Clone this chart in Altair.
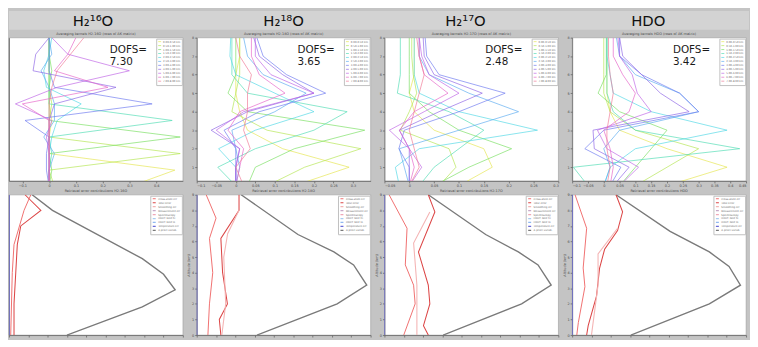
import altair as alt
import pandas as pd

# ---------------- data ----------------
titles = ["H₂¹⁶O", "H₂¹⁸O", "H₂¹⁷O", "HDO"]
dofs_values = ["7.30", "3.65", "2.48", "3.42"]
ak_titles = ["Averaging kernels H2-16O (rows of AK matrix)", "Averaging kernels H2-18O (rows of AK matrix)",
             "Averaging kernels H2-17O (rows of AK matrix)", "Averaging kernels HDO (rows of AK matrix)"]
err_titles = ["Retrieval error contributions H2-16O", "Retrieval error contributions H2-18O",
              "Retrieval error contributions H2-17O", "Retrieval error contributions HDO"]

kernel_labels = ["0.00-0.50 km", "0.50-1.00 km", "1.00-1.50 km", "1.50-2.00 km", "2.00-2.50 km",
                 "2.50-3.00 km", "3.00-4.00 km", "4.00-5.00 km", "5.00-6.00 km", "6.00-7.00 km", "7.00-8.00 km"]
kernel_colors = ["#e6e650", "#b4e650", "#78e060", "#50dcb4", "#50d8e6", "#5aaaf0",
                 "#6c78f0", "#8c64e6", "#be64e6", "#e664c8", "#f07896"]

levels_h2o16 = [0, 1, 2, 3, 4, 5, 6, 7, 8, 9]
levels_iso = [0, 1, 2, 3, 4, 5, 6, 7, 8]

ak_h2o16 = [
    [0.30, 0.47, 0.00, 0.00, 0.01, 0.00, 0.00, 0.00, 0.00, 0.00],
    [0.02, 0.00, 0.49, 0.00, 0.00, 0.01, 0.00, 0.00, 0.00, 0.00],
    [0.00, 0.01, 0.00, 0.49, 0.00, 0.00, 0.00, 0.01, 0.00, 0.00],
    [0.00, 0.00, 0.01, 0.00, 0.46, 0.00, 0.00, 0.00, 0.00, 0.00],
    [0.00, 0.00, 0.00, 0.01, 0.03, 0.12, -0.01, -0.02, 0.00, 0.01],
    [0.00, 0.00, 0.02, -0.02, 0.02, 0.02, 0.00, -0.03, 0.01, 0.00],
    [0.00, -0.01, -0.01, 0.00, -0.09, 0.385, 0.02, 0.00, 0.00, 0.00],
    [0.00, 0.00, 0.00, 0.00, 0.00, 0.02, 0.25, -0.06, -0.05, 0.00],
    [0.00, 0.00, 0.00, -0.01, 0.01, -0.126, 0.03, 0.30, 0.07, 0.01],
    [0.00, 0.00, 0.00, 0.00, 0.00, -0.10, 0.22, 0.02, 0.07, 0.10],
    [0.00, 0.00, 0.00, 0.00, 0.00, 0.00, 0.01, 0.03, 0.08, 0.13],
]
ak_h2o18 = [
    [0.15, 0.29, 0.12, 0.03, 0.01, 0.00, 0.00, 0.01, 0.01],
    [0.08, 0.176, 0.32, 0.08, -0.01, 0.00, 0.01, 0.01, 0.01],
    [0.03, 0.05, 0.15, 0.33, 0.03, -0.02, 0.00, 0.00, 0.00],
    [0.00, -0.046, 0.05, 0.20, 0.285, 0.03, -0.01, -0.01, -0.01],
    [0.00, 0.00, -0.044, 0.05, 0.20, 0.10, 0.00, -0.015, -0.013],
    [0.00, 0.01, 0.00, -0.01, 0.10, 0.18, 0.07, 0.03, 0.02],
    [0.00, 0.00, 0.00, -0.03, 0.06, 0.23, 0.13, 0.07, 0.054],
    [0.00, 0.00, 0.01, -0.063, 0.03, 0.20, 0.12, 0.06, 0.046],
    [0.00, 0.00, 0.01, -0.05, 0.02, 0.20, 0.09, 0.05, 0.05],
    [0.00, 0.01, 0.02, -0.02, 0.01, 0.126, 0.06, 0.04, 0.04],
    [0.02, 0.00, 0.037, 0.02, 0.03, 0.03, 0.04, 0.01, 0.00],
]
ak_h2o17 = [
    [0.10, 0.167, 0.15, 0.05, 0.01, 0.00, 0.01, 0.01, 0.01],
    [0.06, 0.094, 0.08, -0.018, 0.00, 0.015, 0.008, 0.005, 0.005],
    [0.05, 0.12, 0.206, 0.10, 0.04, 0.00, 0.00, 0.00, 0.00],
    [0.02, 0.05, 0.10, 0.15, 0.08, -0.024, -0.018, -0.018, -0.018],
    [-0.02, -0.028, 0.02, 0.258, 0.10, 0.02, 0.01, 0.01, 0.01],
    [0.00, -0.01, -0.02, 0.10, 0.22, 0.12, 0.04, 0.02, 0.02],
    [0.00, 0.00, -0.021, -0.01, 0.10, 0.193, 0.06, 0.035, 0.032],
    [0.00, 0.00, 0.00, -0.02, 0.06, 0.147, 0.05, 0.03, 0.028],
    [0.00, 0.025, 0.00, -0.04, 0.03, 0.10, 0.04, 0.025, 0.02],
    [0.00, 0.01, 0.00, -0.02, 0.01, 0.078, 0.03, 0.02, 0.02],
    [0.00, 0.02, 0.01, 0.00, 0.01, 0.02, 0.03, 0.02, 0.015],
]
ak_hdo = [
    [0.20, 0.39, 0.20, 0.05, 0.02, 0.01, 0.01, 0.01, 0.01],
    [0.10, 0.20, 0.30, 0.10, 0.02, 0.00, 0.00, 0.00, 0.00],
    [0.05, 0.10, 0.15, 0.20, 0.05, -0.018, 0.008, 0.008, 0.008],
    [-0.05, -0.096, 0.43, 0.10, 0.03, 0.01, 0.01, 0.01, 0.01],
    [0.00, 0.02, 0.10, 0.39, 0.15, 0.03, 0.02, 0.01, 0.01],
    [0.00, 0.02, 0.00, 0.05, 0.30, 0.24, 0.10, 0.05, 0.04],
    [0.02, 0.054, -0.06, 0.00, 0.30, 0.24, 0.12, 0.05, 0.05],
    [0.03, 0.08, -0.03, -0.034, 0.27, 0.179, 0.12, 0.06, 0.05],
    [0.05, 0.11, 0.01, -0.02, 0.15, 0.106, 0.09, 0.05, 0.045],
    [0.02, 0.03, 0.02, 0.00, 0.08, 0.10, 0.06, 0.03, 0.03],
    [0.01, 0.02, 0.01, 0.01, 0.02, 0.03, 0.02, 0.015, 0.015],
]

ak_x_domains = [[-0.15, 0.5], [-0.1, 0.345], [-0.05, 0.3], [-0.1, 0.45]]
ak_x_ticks = [[-0.1, 0, 0.1, 0.2, 0.3, 0.4],
              [-0.1, -0.05, 0, 0.05, 0.1, 0.15, 0.2, 0.25, 0.3],
              [-0.05, 0, 0.05, 0.1, 0.15, 0.2, 0.25, 0.3],
              [-0.1, -0.05, 0, 0.05, 0.1, 0.15, 0.2, 0.25, 0.3, 0.35, 0.4, 0.45]]
ak_y_domains = [[0.35, 9], [0.26, 8], [0.26, 8], [0.26, 8]]
ak_y_ticks = [[1, 2, 3, 4, 5, 6, 7, 8, 9], [1, 2, 3, 4, 5, 6, 7, 8],
              [1, 2, 3, 4, 5, 6, 7, 8], [1, 2, 3, 4, 5, 6, 7, 8]]

err_names = ["Cross-state err", "Total error", "Smoothing err", "Measurement err", "Spectroscopy",
             "Interf. NO2 hi", "Interf. NO2 lo", "Temperature err", "A priori variab."]
err_colors = ["#f07070", "#dc4646", "#f4b4b4", "#c8a8c8", "#f0a8b8", "#a8ccf0", "#90b8f0", "#6a6ad8", "#7a7a7a"]
err_widths = [1.0, 1.4, 0.9, 0.9, 0.9, 0.9, 0.9, 1.2, 1.4]

err_h2o16 = {
    "A priori variab.": ([12, 22.5, 69, 80, 86, 69, 30], [9, 8, 4.9, 3.9, 2.9, 1.8, 0]),
    "Total error": ([8.3, 16.5, 6.1, 4.3, 3.5, 2.6, 2.6], [9, 8, 7, 5.8, 4, 2, 0]),
    "Cross-state err": ([11.3, 7.8, 2.6, 1.7, 0.9], [9, 8, 5.8, 4, 0]),
    "Temperature err": ([0, 0], [0, 9]),
}
err_h2o18 = {
    "A priori variab.": ([23, 52.4, 71.0, 81.2, 88.0, 72.7, 31.2], [9, 6.45, 5.33, 4.5, 3.2, 2.0, 0]),
    "Total error": ([21.9, 21.9, 12.5, 13.4, 15.9, 11.7, 12.5], [9, 8, 6.2, 4, 2, 1, 0]),
    "Cross-state err": ([4.9, 10.0, 6.6, 8.3, 6.6, 5.8], [9, 7.5, 6.2, 4.0, 2.0, 0]),
    "Smoothing err": ([21.9, 16, 14, 15, 13], [8, 6.5, 5, 2, 0]),
    "Temperature err": ([0, 0], [0, 9]),
}
err_h2o17 = {
    "A priori variab.": ([22.7, 52.4, 69.3, 79.5, 86.3, 71.0, 30.4], [9, 6.45, 5.33, 4.5, 3.2, 2.0, 0]),
    "Total error": ([22.7, 26.1, 17.6, 22.7, 23.5, 20.2, 22.7], [9, 7.9, 5.33, 3.2, 2.0, 0.6, 0]),
    "Cross-state err": ([2.4, 11.7, 10.8, 15.1, 15.9, 10.0], [9, 6.85, 4.5, 3.2, 2.0, 0]),
    "Smoothing err": ([23.5, 15.1, 16.8, 16.8], [7.9, 5.9, 3.2, 0]),
    "Temperature err": ([0, 0], [0, 9]),
}
err_hdo = {
    "A priori variab.": ([22.7, 50.7, 71.0, 81.2, 87.1, 71.0, 30.4], [9, 6.65, 5.33, 4.4, 3.2, 2.0, 0]),
    "Total error": ([22.7, 26.1, 23.5, 16.8, 14.2, 12.6, 8.3, 7.5], [9, 7.9, 6.7, 5.5, 4.3, 2.5, 0.6, 0]),
    "Cross-state err": ([1.5, 7.5, 5.7, 6.6, 3.2, 2.4], [9, 6.85, 4.3, 3.1, 0.8, 0]),
    "Smoothing err": ([23.5, 13.4, 13.4, 10.0], [6.85, 5.2, 3.2, 0]),
    "Temperature err": ([0, 0], [0, 9]),
}
err_x_ticks = [0, 10, 20, 30, 40, 50, 60, 70, 80, 90]
err_y_ticks = [0, 1, 2, 3, 4, 5, 6, 7, 8, 9]

# ---------------- layout constants ----------------
PW, PH_UP, PH_LO = 176, 145, 142
FONT = "DejaVu Sans"
title_x = [85, 278, 462, 647]

legend_common = dict(orient="top-right", offset=1, padding=1.5, fillColor="white", strokeColor="#c0c0c0",
                     symbolType="stroke", symbolSize=9, symbolStrokeWidth=0.9, labelFontSize=2.6,
                     labelColor="#666", labelOffset=1.5, rowPadding=0, title=None, labelFont=FONT,
                     symbolLimit=20, clipHeight=3.1, labelLimit=30)


def upper_chart(i, rows, levels):
    recs = []
    for k, row in enumerate(rows):
        for lev, v in zip(levels, row):
            recs.append({"kernel": kernel_labels[k], "level": lev, "value": v})
    df = pd.DataFrame(recs)
    show = i > 0
    lines = alt.Chart(df).mark_line(strokeWidth=0.9, clip=True, opacity=0.75).encode(
        x=alt.X("value:Q", scale=alt.Scale(domain=ak_x_domains[i], nice=False, zero=False),
                axis=alt.Axis(values=ak_x_ticks[i], format="~g", title=None)),
        y=alt.Y("level:Q", scale=alt.Scale(domain=ak_y_domains[i], nice=False, zero=False),
                axis=alt.Axis(values=ak_y_ticks[i], title=None, labels=show, ticks=show)),
        color=alt.Color("kernel:N",
                        scale=alt.Scale(domain=kernel_labels[:len(rows)], range=kernel_colors[:len(rows)]),
                        legend=alt.Legend(**legend_common)),
        order=alt.Order("level:Q"),
    )
    dofs = alt.Chart(pd.DataFrame({"t": ["DOFS=\n" + dofs_values[i]]})).mark_text(
        align="left", baseline="alphabetic", fontSize=10.5, lineHeight=11.6, lineBreak="\n",
        font=FONT, color="#1a1a1a").encode(text="t:N", x=alt.value(102), y=alt.value(16))
    sub = alt.Chart(pd.DataFrame({"t": [ak_titles[i]]})).mark_text(
        align="center", baseline="bottom", fontSize=3.5, font=FONT, color="#444").encode(
        text="t:N", x=alt.value(PW / 2), y=alt.value(-1.5))
    layers = []
    if i == 0:
        band = alt.Chart(pd.DataFrame({"a": [0]})).mark_rect(color="#d3d3d3").encode(
            x=alt.value(0), x2=alt.value(749), y=alt.value(-27), y2=alt.value(-8))
        layers.append(band)
        for j, t in enumerate(titles):
            layers.append(alt.Chart(pd.DataFrame({"t": [t]})).mark_text(
                align="center", baseline="alphabetic", fontSize=15, font=FONT, color="#111").encode(
                text="t:N", x=alt.value(title_x[j]), y=alt.value(-12)))
    layers += [lines, dofs, sub]
    return alt.layer(*layers).properties(width=PW, height=PH_UP)


def lower_chart(i, err):
    recs = []
    for name, (xs, ys) in err.items():
        for n, (xv, yv) in enumerate(zip(xs, ys)):
            recs.append({"series": name, "i": n, "x": xv, "y": yv})
    df = pd.DataFrame(recs)
    show = i > 0
    lines = alt.Chart(df).mark_line(clip=True).encode(
        x=alt.X("x:Q", scale=alt.Scale(domain=[0, 90], nice=False, zero=False),
                axis=alt.Axis(values=err_x_ticks, labels=False, title=None)),
        y=alt.Y("y:Q", scale=alt.Scale(domain=[0, 9], nice=False, zero=False),
                axis=alt.Axis(values=err_y_ticks, labels=show, ticks=show,
                              title="Altitude (km)" if show else None, titlePadding=1)),
        color=alt.Color("series:N", scale=alt.Scale(domain=err_names, range=err_colors),
                        legend=alt.Legend(**legend_common)),
        strokeWidth=alt.StrokeWidth("series:N", scale=alt.Scale(domain=err_names, range=err_widths), legend=None),
        order=alt.Order("i:Q"),
    )
    sub = alt.Chart(pd.DataFrame({"t": [err_titles[i]]})).mark_text(
        align="center", baseline="bottom", fontSize=3.5, font=FONT, color="#444").encode(
        text="t:N", x=alt.value(PW / 2), y=alt.value(-1.5))
    return alt.layer(lines, sub).properties(width=PW, height=PH_LO)


uppers = [upper_chart(0, ak_h2o16, levels_h2o16), upper_chart(1, ak_h2o18, levels_iso),
          upper_chart(2, ak_h2o17, levels_iso), upper_chart(3, ak_hdo, levels_iso)]
lowers = [lower_chart(0, err_h2o16), lower_chart(1, err_h2o18),
          lower_chart(2, err_h2o17), lower_chart(3, err_hdo)]

chart = alt.concat(*uppers, *lowers, columns=4, spacing={"row": 14, "column": 14}, bounds="flush").resolve_scale(
    color="independent", strokeWidth="independent", x="independent", y="independent"
).resolve_legend(color="independent").properties(padding=0, background="#c4c4c4").configure_axis(
    grid=False, domainColor="#666", tickColor="#666", tickSize=2, labelFontSize=3.5, labelColor="#444",
    labelPadding=1, titleFontSize=3.5, titleColor="#444", labelFont=FONT, titleFont=FONT,
    titleFontWeight="normal", domainWidth=0.8, tickWidth=0.8
).configure_view(stroke="#9a9a9a", strokeWidth=0.6, fill="white")

chart.save("out.html", embed_options={"renderer": "svg", "actions": False})
